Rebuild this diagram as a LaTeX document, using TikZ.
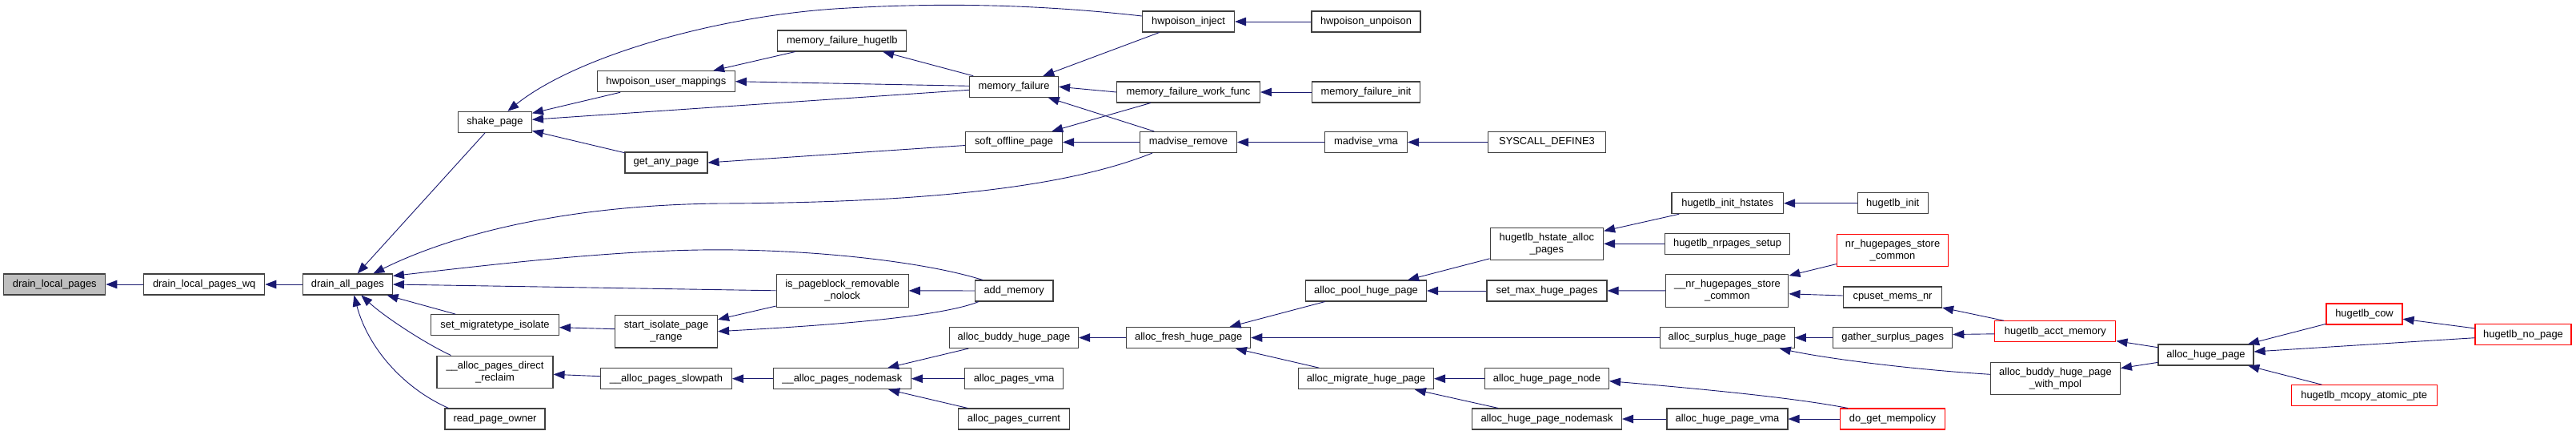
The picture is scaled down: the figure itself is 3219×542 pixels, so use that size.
\documentclass[tikz,border=0pt]{standalone}
\usepackage{fontspec}
\newfontfamily\doxfont{Liberation Sans}
\usetikzlibrary{arrows.meta}
\definecolor{edgeblue}{HTML}{191970}
\definecolor{curgray}{HTML}{BFBFBF}
\definecolor{boxdark}{HTML}{404040}
\definecolor{boxred}{HTML}{FF0000}
\tikzset{
  fn/.style={draw=boxdark, line width=1.1pt, fill=white, rectangle, minimum height=26pt,
    inner xsep=2pt, inner ysep=1pt, align=center, text=black,
    font=\doxfont\fontsize{12.9}{14.8}\selectfont},
  fntwo/.style={fn, minimum height=40.5pt},
  redbox/.style={draw=boxred},
  curbox/.style={fill=curgray},
  calls/.style={draw=edgeblue, line width=0.9pt, -{Triangle[length=14pt,width=10.5pt]}}
}
\begin{document}
\begin{tikzpicture}[x=1pt,y=-1pt]
\path[use as bounding box, fill=white] (0,0) rectangle (3219,542);

% rank 0-2
\node[fn, curbox, minimum width=127pt] (dlp) at (68.3,355) {drain\_local\_pages};
\node[fn, minimum width=151pt] (dlpwq) at (255.2,355) {drain\_local\_pages\_wq};
\node[fn, minimum width=112pt] (dap) at (434.4,355) {drain\_all\_pages};
% rank 3
\node[fn, minimum width=92pt] (shake) at (618.4,152.3) {shake\_page};
\node[fn, minimum width=160pt] (smi) at (618.5,405.7) {set\_migratetype\_isolate};
\node[fntwo, minimum width=145pt] (apdr) at (618.5,464.3) {\_\_alloc\_pages\_direct\\\_reclaim};
\node[fn, minimum width=125pt] (rpo) at (618.5,523) {read\_page\_owner};
% rank 4
\node[fn, minimum width=172pt] (hum) at (832.4,101.7) {hwpoison\_user\_mappings};
\node[fn, minimum width=103pt] (gap) at (832.5,203) {get\_any\_page};
\node[fntwo, minimum width=128pt] (sipr) at (832.5,413.7) {start\_isolate\_page\\\_range};
\node[fn, minimum width=164pt] (aps) at (832.5,472.7) {\_\_alloc\_pages\_slowpath};
% rank 5
\node[fn, minimum width=161pt] (mfh) at (1052.4,51) {memory\_failure\_hugetlb};
\node[fntwo, minimum width=165pt] (isp) at (1052.7,362.8) {is\_pageblock\_removable\\\_nolock};
\node[fn, minimum width=172pt] (apn) at (1052.4,472.7) {\_\_alloc\_pages\_nodemask};
% rank 6
\node[fn, minimum width=111pt] (mf) at (1267,108.3) {memory\_failure};
\node[fn, minimum width=121pt] (sop) at (1267,177.5) {soft\_offline\_page};
\node[fn, minimum width=97.5pt] (am) at (1267.2,363) {add\_memory};
\node[fn, minimum width=161pt] (abhp) at (1267,421.5) {alloc\_buddy\_huge\_page};
\node[fn, minimum width=122.5pt] (apv) at (1267,472.7) {alloc\_pages\_vma};
\node[fn, minimum width=139pt] (apc) at (1267,523) {alloc\_pages\_current};
% rank 7
\node[fn, minimum width=115pt] (hi) at (1485,27) {hwpoison\_inject};
\node[fn, minimum width=179pt] (mfwf) at (1485,115) {memory\_failure\_work\_func};
\node[fn, minimum width=121pt] (mr) at (1485,177.5) {madvise\_remove};
\node[fn, minimum width=155pt] (afhp) at (1485.2,421.5) {alloc\_fresh\_huge\_page};
% rank 8
\node[fn, minimum width=136pt] (hu) at (1707,27) {hwpoison\_unpoison};
\node[fn, minimum width=135pt] (mfi) at (1707,115) {memory\_failure\_init};
\node[fn, minimum width=103pt] (mv) at (1707,177.5) {madvise\_vma};
\node[fn, minimum width=151pt] (aphp) at (1707,363) {alloc\_pool\_huge\_page};
\node[fn, minimum width=169pt] (amhp) at (1707,472.7) {alloc\_migrate\_huge\_page};
% rank 9
\node[fn, minimum width=147pt] (sys) at (1933,177.5) {SYSCALL\_DEFINE3};
\node[fntwo, minimum width=141.5pt] (hhap) at (1932.8,304.3) {hugetlb\_hstate\_alloc\\\_pages};
\node[fn, minimum width=150pt] (smhp) at (1933,363) {set\_max\_huge\_pages};
\node[fn, minimum width=155pt] (ahpn) at (1933,472.7) {alloc\_huge\_page\_node};
\node[fn, minimum width=187pt] (ahpnm) at (1933,523) {alloc\_huge\_page\_nodemask};
% rank 10
\node[fn, minimum width=139.5pt] (hih) at (2158.7,253.7) {hugetlb\_init\_hstates};
\node[fn, minimum width=156pt] (hnps) at (2158.5,304.3) {hugetlb\_nrpages\_setup};
\node[fntwo, minimum width=153pt] (unhsc) at (2158.4,362.8) {\_\_nr\_hugepages\_store\\\_common};
\node[fn, minimum width=168pt] (ash) at (2158.2,421.5) {alloc\_surplus\_huge\_page};
\node[fn, minimum width=151pt] (ahpv) at (2158.5,523) {alloc\_huge\_page\_vma};
% rank 11
\node[fn, minimum width=88pt] (hinit) at (2365.2,253.7) {hugetlb\_init};
\node[fntwo, redbox, minimum width=139pt] (nhsc) at (2365,312.5) {nr\_hugepages\_store\\\_common};
\node[fn, minimum width=123pt] (cmn) at (2365,371) {cpuset\_mems\_nr};
\node[fn, minimum width=149pt] (gsp) at (2365.2,421.5) {gather\_surplus\_pages};
\node[fn, redbox, minimum width=131pt] (dgm) at (2365,523) {do\_get\_mempolicy};
% rank 12
\node[fn, redbox, minimum width=151pt] (ham) at (2568.4,413.8) {hugetlb\_acct\_memory};
\node[fntwo, minimum width=162pt] (abhpwm) at (2568.4,472.3) {alloc\_buddy\_huge\_page\\\_with\_mpol};
% rank 13-15
\node[fn, minimum width=119pt] (ahp) at (2756.5,443) {alloc\_huge\_page};
\node[fn, redbox, minimum width=95pt] (hc) at (2954.5,392) {hugetlb\_cow};
\node[fn, redbox, minimum width=182pt] (hmap) at (2954.2,493.7) {hugetlb\_mcopy\_atomic\_pte};
\node[fn, redbox, minimum width=120pt] (hnp) at (3153,417.7) {hugetlb\_no\_page};

% edges (caller -> callee)
\draw[calls] (dlpwq) -- (dlp);
\draw[calls] (dap) -- (dlpwq);
\draw[calls] (shake) -- (dap);
\draw[calls] ([xshift=16pt]mr.south west) .. controls (1330,235) and (1150,253) .. (900,254)
   .. controls (700,256) and (560,295) .. ([xshift=32pt]dap.north);
\draw[calls] ([xshift=10pt]am.north west) .. controls (1150,325) and (1000,310) .. (874,312)
   .. controls (750,314) and (600,332) .. ([yshift=-3pt]dap.north east);
\draw[calls] (isp.west) -- (dap.east);
\draw[calls] (smi) -- (dap);
\draw[calls] ([xshift=18pt]apdr.north west) .. controls (530,428) and (480,395) .. ([xshift=17pt]dap.south);
\draw[calls] ([xshift=5pt]rpo.north west) .. controls (505,485) and (460,435) .. ([xshift=8pt]dap.south);

\draw[calls] ([yshift=7pt]hi.west) .. controls (1320,8) and (1200,2) .. (1060,10)
   .. controls (900,18) and (720,70) .. ([xshift=16pt]shake.north);
\draw[calls] (hum) -- (shake);
\draw[calls] ([yshift=-4pt]mf.west) -- ([yshift=3pt]shake.east);
\draw[calls] ([yshift=1pt]mf.west) -- (hum.east);
\draw[calls] (gap) -- (shake);
\draw[calls] (mfh) -- (hum);
\draw[calls] (mf) -- (mfh);
\draw[calls] ([yshift=-4pt]sop.west) -- (gap.east);
\draw[calls] (hi) -- (mf);
\draw[calls] (mfwf.west) -- (mf.east);
\draw[calls] (mr) -- (mf);
\draw[calls] (mfwf) -- (sop);
\draw[calls] (mr) -- (sop);
\draw[calls] (hu) -- (hi);
\draw[calls] (mfi) -- (mfwf);
\draw[calls] (mv) -- (mr);
\draw[calls] (sys) -- (mv);

\draw[calls] (am) -- (isp);
\draw[calls] ([yshift=3pt]sipr.west) -- ([yshift=-3pt]smi.east);
\draw[calls] (isp) -- (sipr);
\draw[calls] ([xshift=5pt]am.south west) .. controls (1170,398) and (1000,408) .. (sipr.east);
\draw[calls] ([yshift=3pt]aps.west) -- ([yshift=-3pt]apdr.east);
\draw[calls] (apn) -- (aps);
\draw[calls] (abhp) -- (apn);
\draw[calls] (apv) -- (apn);
\draw[calls] (apc) -- (apn);
\draw[calls] (afhp) -- (abhp);
\draw[calls] (aphp) -- (afhp);
\draw[calls] (ash) -- (afhp);
\draw[calls] (amhp) -- (afhp);
\draw[calls] (hhap) -- (aphp);
\draw[calls] (smhp) -- (aphp);
\draw[calls] (hih) -- (hhap);
\draw[calls] (hnps) -- (hhap);
\draw[calls] (hinit) -- (hih);
\draw[calls] (unhsc) -- (smhp);
\draw[calls] (nhsc) -- (unhsc);
\draw[calls] ([yshift=2pt]cmn.west) -- ([yshift=-4pt]unhsc.east);
\draw[calls] (ham) -- (cmn);
\draw[calls] ([yshift=-3pt]ham.west) -- ([yshift=4pt]gsp.east);
\draw[calls] (gsp) -- (ash);
\draw[calls] ([yshift=5pt]abhpwm.west) .. controls (2400,462) and (2290,449) .. ([xshift=-19pt]ash.south east);
\draw[calls] (ahpn) -- (amhp);
\draw[calls] (ahpnm) -- (amhp);
\draw[calls] ([xshift=10pt]dgm.north west) .. controls (2260,500) and (2180,490) .. ([yshift=-3pt]ahpn.east);
\draw[calls] (ahpv) -- (ahpnm);
\draw[calls] (dgm) -- (ahpv);
\draw[calls] (ahp) -- (ham);
\draw[calls] (ahp) -- (abhpwm);
\draw[calls] (hc) -- (ahp);
\draw[calls] ([yshift=-4pt]hnp.west) -- ([yshift=4pt]ahp.east);
\draw[calls] (hnp) -- (hc);
\draw[calls] (hmap) -- (ahp);
\end{tikzpicture}
\end{document}
